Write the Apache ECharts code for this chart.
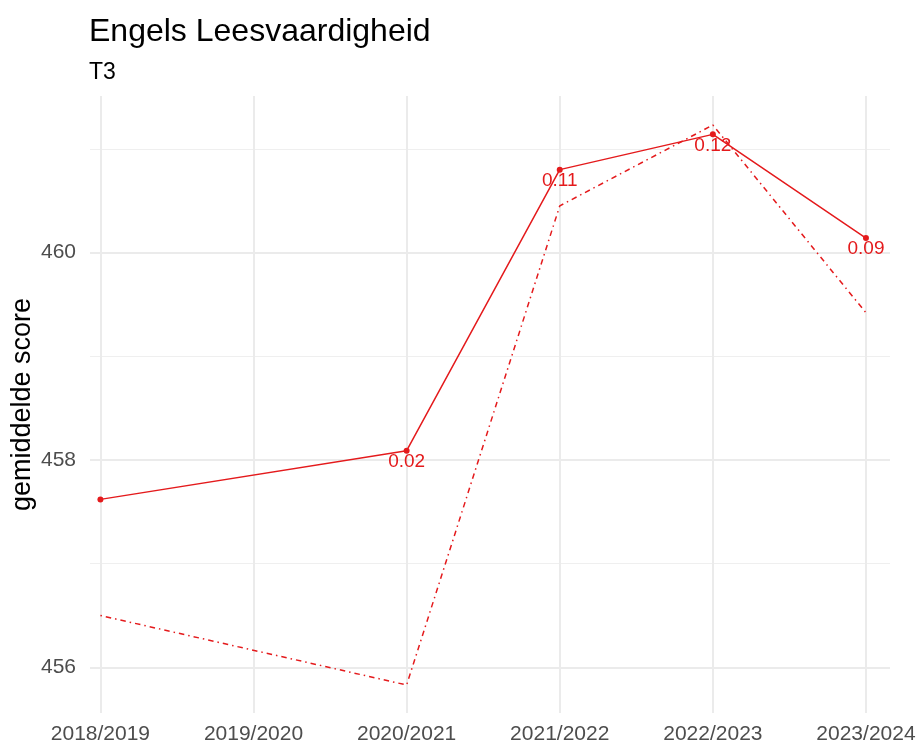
<!DOCTYPE html>
<html>
<head>
<meta charset="utf-8">
<script src="https://cdn.jsdelivr.net/npm/echarts@6/dist/echarts.min.js"></script>
<style>
html,body{margin:0;padding:0;background:#fff;}
#chart{width:919px;height:744px;}
</style>
</head>
<body>
<div id="chart"></div>
<script>
// ---- data ----
var categories = ['2018/2019', '2019/2020', '2020/2021', '2021/2022', '2022/2023', '2023/2024'];
var observedYears = ['2018/2019', '2020/2021', '2021/2022', '2022/2023', '2023/2024'];
var scoreMain = [457.62, 458.09, 460.80, 461.14, 460.14];
var scoreRef = [456.50, 455.83, 460.45, 461.23, 459.42];
var effectLabels = ['', '0.02', '0.11', '0.12', '0.09'];
var yMajorTicks = [456, 458, 460];
var yMinorTicks = [457, 459, 461];

var red = '#E41A1C';
var font = 'Liberation Sans, Arial, Helvetica, sans-serif';
var catIdx = categories.map(function (c, i) { return i; });

function pts(vals) {
  return observedYears.map(function (y, i) { return [categories.indexOf(y), vals[i]]; });
}

var yMin = 455.56, yMax = 461.51;

var chart = echarts.init(document.getElementById('chart'), null, {renderer: 'canvas'});
chart.setOption({
  animation: false,
  backgroundColor: '#ffffff',
  title: {
    text: 'Engels Leesvaardigheid',
    subtext: 'T3',
    left: 84,
    top: 11,
    itemGap: 13,
    textStyle: {fontFamily: font, fontSize: 32, fontWeight: 'normal', color: '#000'},
    subtextStyle: {fontFamily: font, fontSize: 23, color: '#000'}
  },
  grid: {left: 90, right: 29, top: 96, bottom: 31, containLabel: false, outerBoundsMode: 'none'},
  xAxis: {
    type: 'value',
    min: -0.068,
    max: 5.157,
    axisLine: {show: false},
    axisTick: {show: false, customValues: catIdx},
    axisLabel: {
      customValues: catIdx,
      formatter: function (v) { return categories[Math.round(v)]; },
      fontFamily: font, fontSize: 21, color: '#4D4D4D', margin: 11
    },
    splitLine: {show: true, lineStyle: {color: '#EBEBEB', width: 2}}
  },
  yAxis: [{
    type: 'value',
    min: yMin,
    max: yMax,
    name: 'gemiddelde score',
    nameLocation: 'middle',
    nameGap: 54,
    nameMoveOverlap: false,
    nameTextStyle: {fontFamily: font, fontSize: 27, color: '#000'},
    axisLine: {show: false},
    axisTick: {show: false, customValues: yMajorTicks},
    axisLabel: {
      customValues: yMajorTicks,
      fontFamily: font, fontSize: 21, color: '#4D4D4D', margin: 14
    },
    splitLine: {show: true, lineStyle: {color: '#EBEBEB', width: 2}}
  }, {
    type: 'value',
    min: yMin,
    max: yMax,
    position: 'left',
    axisLine: {show: false},
    axisTick: {show: false, customValues: yMinorTicks},
    axisLabel: {show: false, customValues: yMinorTicks},
    splitLine: {show: true, lineStyle: {color: '#EFEFEF', width: 1}}
  }],
  series: [{
    type: 'line',
    data: pts(scoreRef),
    showSymbol: false,
    symbol: 'none',
    lineStyle: {color: red, width: 1.5, type: [1.5, 4, 5.5, 4]},
    z: 2
  }, {
    type: 'line',
    data: pts(scoreMain),
    symbol: 'circle',
    symbolSize: 6,
    itemStyle: {color: red},
    lineStyle: {color: red, width: 1.5},
    label: {
      show: true,
      position: 'inside',
      offset: [0, 11],
      formatter: function (p) { return effectLabels[p.dataIndex]; },
      fontFamily: font, fontSize: 19, color: red
    },
    z: 3
  }]
});
</script>
</body>
</html>
